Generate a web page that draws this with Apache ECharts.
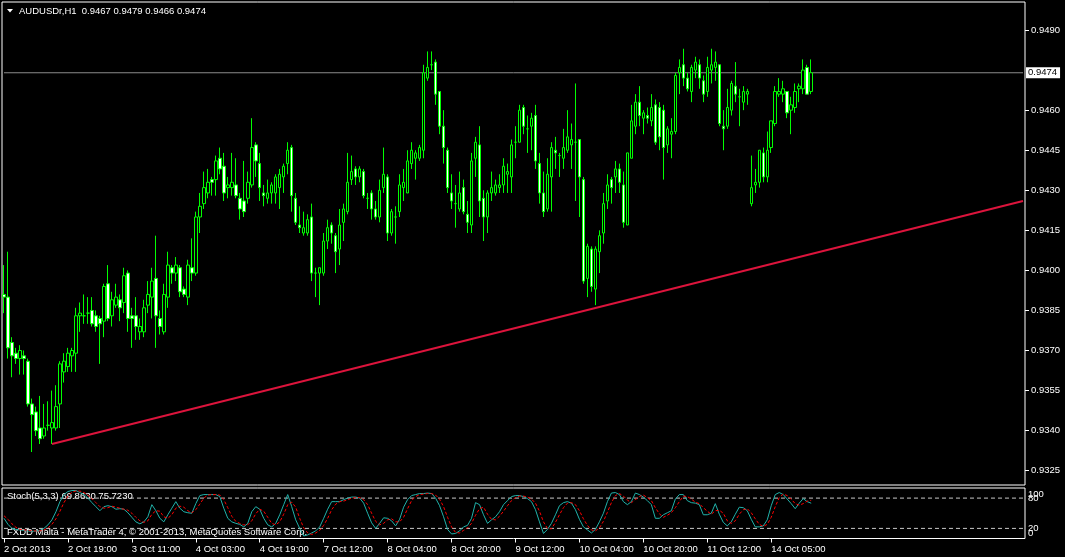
<!DOCTYPE html>
<html><head><meta charset="utf-8">
<script src="https://cdn.jsdelivr.net/npm/echarts@6/dist/echarts.min.js"></script>
<style>html,body{margin:0;padding:0;background:#000;}#c{width:1065px;height:557px;}</style>
</head><body><div id="c"></div>
<script>
const symbol = 'AUDUSDr,H1';
const tickLabels = ['2 Oct 2013','2 Oct 19:00','3 Oct 11:00','4 Oct 03:00','4 Oct 19:00','7 Oct 12:00','8 Oct 04:00','8 Oct 20:00','9 Oct 12:00','10 Oct 04:00','10 Oct 20:00','11 Oct 12:00','14 Oct 05:00'];
const priceTicks = [0.9325,0.9340,0.9355,0.9370,0.9385,0.9400,0.9415,0.9430,0.9445,0.9460,0.9490];
const stochLevelsInner = [20,80];
const stochLevelsOuter = [0,100];
const bidPrice = 0.9474;
const trendStart = [12, 0.9335];
const trendEnd = [255, 0.9426];
const totalSlots = 256;

const open = [
.9391,.9390,.9373,.9369,.9367,.9368,.9366,.9350,.9347,.9341,
.9338,.9342,.9341,.9341,.9350,.9362,.9364,.9368,.9369,.9383,
.9383,.9384,.9385,.9383,.9382,.9381,.9395,.9383,.9387,.9389,
.9388,.9399,.9383,.9383,.9377,.9377,.9387,.9390,.9397,.9382,
.9377,.9390,.9401,.9399,.9401,.9393,.9390,.9401,.9399,.9420,
.9425,.9429,.9434,.9434,.9442,.9439,.9431,.9431,.9432,.9427,
.9426,.9427,.9432,.9447,.9440,.9429,.9427,.9429,.9429,.9431,
.9435,.9440,.9446,.9427,.9417,.9414,.9414,.9420,.9399,.9399,
.9399,.9411,.9417,.9413,.9408,.9418,.9422,.9434,.9438,.9435,
.9437,.9427,.9429,.9423,.9420,.9431,.9435,.9414,.9420,.9422,
.9431,.9429,.9440,.9442,.9442,.9445,.9472,.9477,.9478,.9467,
.9454,.9445,.9429,.9425,.9423,.9431,.9421,.9417,.9442,.9447,
.9427,.9420,.9429,.9429,.9431,.9432,.9436,.9435,.9448,.9448,
.9461,.9453,.9454,.9458,.9440,.9429,.9423,.9435,.9445,.9443,
.9442,.9445,.9447,.9448,.9449,.9434,.9397,.9408,.9393,.9407,
.9414,.9426,.9434,.9435,.9438,.9432,.9417,.9442,.9454,.9463,
.9457,.9458,.9456,.9462,.9461,.9460,.9447,.9451,.9452,.9474,
.9477,.9472,.9467,.9475,.9477,.9471,.9467,.9475,.9476,.9477,
.9454,.9454,.9460,.9469,.9465,.9463,.9466,.9425,.9432,.9433,
.9444,.9435,.9446,.9455,.9466,.9466,.9467,.9460,.9461,.9468,
.9468,.9476,.9467];
const high = [
.9402,.9407,.9375,.9371,.9372,.9370,.9367,.9352,.9349,.9353,
.9350,.9351,.9355,.9357,.9366,.9369,.9371,.9371,.9386,.9388,
.9391,.9390,.9390,.9385,.9383,.9395,.9402,.9392,.9395,.9391,
.9401,.9400,.9386,.9390,.9382,.9389,.9396,.9401,.9413,.9385,
.9395,.9407,.9402,.9405,.9402,.9394,.9404,.9412,.9422,.9429,
.9437,.9438,.9435,.9443,.9446,.9444,.9435,.9444,.9442,.9429,
.9441,.9437,.9457,.9448,.9444,.9432,.9434,.9433,.9436,.9438,
.9440,.9448,.9447,.9429,.9424,.9422,.9421,.9425,.9401,.9401,
.9414,.9419,.9418,.9414,.9423,.9425,.9444,.9443,.9439,.9439,
.9438,.9429,.9430,.9426,.9434,.9446,.9436,.9423,.9424,.9436,
.9438,.9445,.9448,.9445,.9447,.9477,.9482,.9482,.9479,.9467,
.9460,.9446,.9436,.9432,.9437,.9434,.9426,.9444,.9450,.9454,
.9430,.9430,.9437,.9434,.9436,.9442,.9440,.9449,.9454,.9462,
.9462,.9458,.9459,.9462,.9444,.9437,.9442,.9448,.9450,.9444,
.9453,.9460,.9455,.9470,.9449,.9435,.9410,.9409,.9409,.9415,
.9429,.9436,.9435,.9441,.9440,.9437,.9444,.9462,.9466,.9469,
.9460,.9461,.9466,.9464,.9463,.9462,.9454,.9457,.9474,.9479,
.9483,.9474,.9477,.9480,.9479,.9473,.9480,.9483,.9482,.9477,
.9460,.9468,.9471,.9478,.9468,.9469,.9468,.9443,.9438,.9445,
.9446,.9452,.9456,.9469,.9472,.9471,.9467,.9465,.9470,.9470,
.9479,.9477,.9479];
const low = [
.9384,.9367,.9360,.9365,.9361,.9361,.9349,.9332,.9338,.9335,
.9337,.9340,.9335,.9340,.9341,.9358,.9362,.9362,.9362,.9377,
.9380,.9380,.9379,.9377,.9365,.9375,.9381,.9379,.9386,.9381,
.9384,.9377,.9371,.9374,.9374,.9375,.9384,.9382,.9371,.9376,
.9376,.9386,.9395,.9396,.9390,.9390,.9387,.9396,.9398,.9414,
.9423,.9427,.9428,.9428,.9436,.9426,.9427,.9428,.9427,.9419,
.9420,.9425,.9431,.9435,.9426,.9424,.9425,.9425,.9425,.9423,
.9429,.9436,.9422,.9417,.9414,.9413,.9413,.9396,.9390,.9387,
.9398,.9408,.9410,.9399,.9402,.9411,.9421,.9432,.9432,.9433,
.9427,.9423,.9419,.9419,.9418,.9429,.9411,.9413,.9410,.9420,
.9426,.9429,.9438,.9434,.9441,.9442,.9471,.9475,.9462,.9451,
.9440,.9429,.9423,.9416,.9422,.9421,.9414,.9414,.9435,.9420,
.9411,.9414,.9426,.9428,.9429,.9429,.9429,.9429,.9442,.9448,
.9451,.9444,.9445,.9438,.9425,.9420,.9422,.9422,.9438,.9435,
.9438,.9444,.9438,.9426,.9420,.9395,.9390,.9392,.9387,.9399,
.9410,.9423,.9425,.9429,.9429,.9416,.9417,.9442,.9451,.9454,
.9451,.9455,.9454,.9447,.9445,.9434,.9444,.9442,.9451,.9466,
.9469,.9467,.9463,.9472,.9468,.9463,.9465,.9470,.9471,.9454,
.9445,.9453,.9458,.9463,.9454,.9460,.9462,.9424,.9429,.9431,
.9433,.9433,.9444,.9454,.9465,.9463,.9457,.9451,.9459,.9463,
.9466,.9466,.9466];
const close = [
.9390,.9371,.9368,.9367,.9370,.9367,.9350,.9346,.9340,.9337,
.9341,.9342,.9343,.9349,.9365,.9366,.9369,.9370,.9383,.9384,
.9383,.9384,.9380,.9379,.9380,.9394,.9382,.9389,.9390,.9386,
.9398,.9382,.9382,.9379,.9379,.9386,.9391,.9396,.9383,.9379,
.9391,.9402,.9399,.9402,.9392,.9391,.9402,.9399,.9420,.9424,
.9431,.9433,.9433,.9441,.9438,.9429,.9432,.9433,.9428,.9423,
.9422,.9433,.9446,.9441,.9431,.9428,.9429,.9432,.9435,.9436,
.9439,.9445,.9428,.9418,.9416,.9416,.9419,.9399,.9399,.9401,
.9411,.9416,.9414,.9407,.9417,.9423,.9433,.9437,.9435,.9438,
.9428,.9427,.9423,.9420,.9430,.9436,.9414,.9422,.9420,.9432,
.9433,.9441,.9445,.9444,.9446,.9474,.9476,.9477,.9466,.9454,
.9446,.9431,.9426,.9425,.9429,.9422,.9418,.9441,.9448,.9426,
.9420,.9429,.9431,.9432,.9432,.9439,.9437,.9447,.9448,.9460,
.9454,.9453,.9457,.9441,.9429,.9422,.9436,.9446,.9444,.9443,
.9446,.9450,.9449,.9448,.9435,.9396,.9409,.9394,.9408,.9413,
.9425,.9432,.9431,.9438,.9433,.9418,.9444,.9456,.9463,.9458,
.9459,.9457,.9461,.9448,.9450,.9446,.9453,.9452,.9473,.9476,
.9472,.9468,.9476,.9478,.9472,.9466,.9476,.9477,.9478,.9455,
.9453,.9461,.9470,.9466,.9465,.9467,.9467,.9431,.9433,.9445,
.9435,.9445,.9456,.9467,.9467,.9468,.9459,.9462,.9467,.9469,
.9475,.9466,.9474];
const stochK = [
40,28,20,18,17,16,15,14,15,16,
20,27,37,53,73,87,93,95,95,91,
87,80,71,63,55,63,65,63,58,59,
58,51,42,33,29,33,43,67,55,40,
33,47,60,73,60,53,51,50,69,85,
87,87,87,87,83,60,40,33,30,28,
23,30,53,63,58,40,27,23,30,47,
67,87,63,37,20,5,7,11,15,23,
40,58,73,73,73,77,80,82,82,80,
70,50,31,20,30,41,40,35,25,38,
62,77,85,87,89,89,90,89,80,65,
43,18,9,10,15,23,26,40,71,67,
47,30,37,43,53,67,75,83,85,85,
83,79,73,57,33,10,18,30,47,65,
71,73,70,57,38,23,17,11,18,33,
50,73,90,91,87,73,67,73,90,87,
82,75,67,40,40,47,51,55,78,87,
87,75,71,70,67,47,47,50,69,48,
32,25,33,48,62,61,55,38,23,23,
25,37,65,87,91,87,78,69,59,70,
79,73,69.863];
const stochD = [
45,38,29,22,18,17,16,15,15,15,
17,21,28,39,54,71,84,92,94,94,
91,86,79,71,63,60,61,64,62,60,
58,56,50,42,35,32,35,48,55,54,
43,40,47,60,64,62,55,51,57,68,
80,86,87,87,86,77,61,44,34,30,
27,27,35,49,58,54,42,30,27,33,
48,67,72,62,40,21,11,8,11,16,
26,40,57,68,73,74,77,80,81,81,
77,67,50,34,27,30,37,39,33,33,
42,59,75,83,87,88,89,89,86,78,
63,42,23,12,11,16,21,30,46,59,
62,48,38,37,44,54,65,75,81,84,
84,82,78,70,54,33,20,19,32,47,
61,70,71,67,55,39,26,17,15,21,
34,52,71,85,89,84,76,71,77,83,
86,81,75,61,49,42,46,51,61,73,
84,83,78,72,69,61,54,48,55,56,
50,35,30,35,48,57,59,51,39,28,
24,28,42,63,81,88,85,78,69,66,
69,74,75.723];

const FONT = '"Liberation Sans", Arial, sans-serif';
const FS = 9.5;
const cats = Array.from({length: totalSlots}, (_, i) => String(i));
const candleData = open.map((o, i) => [o, close[i], low[i], high[i]]);
const last = a => a[a.length - 1];
const headerText = symbol + '  ' + [open, high, low, close].map(a => last(a).toFixed(4)).join(' ');
const stochText = 'Stoch(5,3,3) ' + last(stochK).toFixed(4) + ' ' + last(stochD).toFixed(4);
const showTick = idx => idx % 16 === 0 && idx / 16 < tickLabels.length;
const bidLine = [[0, bidPrice], [totalSlots - 1, bidPrice]];
const levelLine = v => [[0, v], [totalSlots - 1, v]];

const noAxis = {splitLine: {show: false}, axisLine: {show: false}};
const chart = echarts.init(document.getElementById('c'), null, {renderer: 'canvas'});
chart.setOption({
  backgroundColor: '#000',
  animation: false,
  textStyle: {fontFamily: FONT},
  grid: [
    {left: 2, right: 40, top: 2, height: 483, show: true, borderColor: '#fff', borderWidth: 1, backgroundColor: 'transparent'},
    {left: 2, right: 40, top: 488, height: 50.5, show: true, borderColor: '#fff', borderWidth: 1, backgroundColor: 'transparent'}
  ],
  xAxis: [
    {type: 'category', gridIndex: 0, data: cats, boundaryGap: true,
     axisLine: {show: false}, axisTick: {show: false}, axisLabel: {show: false}, splitLine: {show: false}},
    {type: 'category', gridIndex: 1, data: cats, boundaryGap: true,
     axisLine: {show: false},
     axisTick: {show: true, alignWithLabel: true, interval: showTick, length: 4, lineStyle: {color: '#fff'}},
     axisLabel: {show: true, interval: showTick, align: 'left', color: '#fff', fontSize: FS, fontFamily: FONT, margin: 6,
       formatter: (v) => { const n = Number(v); return n % 16 === 0 && tickLabels[n / 16] ? tickLabels[n / 16] : ''; }},
     splitLine: {show: false}}
  ],
  yAxis: [
    Object.assign({type: 'value', gridIndex: 0, position: 'right', min: 0.931965, max: 0.95005,
     axisTick: {show: true, length: 4, customValues: priceTicks, lineStyle: {color: '#fff'}},
     axisLabel: {customValues: priceTicks, color: '#fff', fontSize: FS, fontFamily: FONT, margin: 6, formatter: v => v.toFixed(4)}}, noAxis),
    Object.assign({type: 'value', gridIndex: 1, position: 'right', min: 0, max: 100, axisTick: {show: false},
     axisLabel: {customValues: stochLevelsInner, color: '#fff', fontSize: FS, fontFamily: FONT, margin: 3}}, noAxis),
    Object.assign({type: 'value', gridIndex: 1, position: 'right', offset: 0, min: 0, max: 100, axisTick: {show: false},
     axisLabel: {customValues: stochLevelsOuter, showMinLabel: true, showMaxLabel: true, color: '#fff', fontSize: FS, fontFamily: FONT, margin: 3,
       formatter: v => v === 100 ? '{dn|100}' : '{up|0}',
       rich: {dn: {padding: [12, 0, 0, 0], color: '#fff', fontSize: FS, fontFamily: FONT},
              up: {padding: [0, 0, 10, 0], color: '#fff', fontSize: FS, fontFamily: FONT}}}}, noAxis)
  ],
  series: [
    {type: 'candlestick', xAxisIndex: 0, yAxisIndex: 0, data: candleData, barWidth: 3,
     itemStyle: {color: '#000', color0: '#ffffff', borderColor: '#00ff00', borderColor0: '#00ff00', borderWidth: 1},
     emphasis: {disabled: true}, z: 3},
    {type: 'line', xAxisIndex: 0, yAxisIndex: 0, data: bidLine, symbol: 'none', silent: true, z: 2,
     lineStyle: {color: '#8c8c8c', width: 1},
     endLabel: {show: true, distance: 3, formatter: () => bidPrice.toFixed(4), color: '#000',
                backgroundColor: '#fff', fontSize: FS, fontFamily: FONT, padding: [1, 3, 0, 2]}},
    {type: 'line', xAxisIndex: 0, yAxisIndex: 0, data: [trendStart, trendEnd], symbol: 'none', silent: true, z: 4,
     lineStyle: {color: '#dc143c', width: 2}},
    {type: 'line', xAxisIndex: 1, yAxisIndex: 1, data: levelLine(80), symbol: 'none', silent: true, z: 1,
     lineStyle: {color: '#c8c8c8', type: [4, 3], width: 1}},
    {type: 'line', xAxisIndex: 1, yAxisIndex: 1, data: levelLine(20), symbol: 'none', silent: true, z: 1,
     lineStyle: {color: '#c8c8c8', type: [4, 3], width: 1}},
    {type: 'line', xAxisIndex: 1, yAxisIndex: 1, data: stochK, symbol: 'none', silent: true, z: 3,
     lineStyle: {color: '#20b2aa', width: 1}},
    {type: 'line', xAxisIndex: 1, yAxisIndex: 1, data: stochD, symbol: 'none', silent: true, z: 4,
     lineStyle: {color: '#ff0000', width: 1, type: [3, 2]}}
  ],
  graphic: [
    {type: 'polygon', shape: {points: [[7, 9], [13, 9], [10, 12.5]]}, style: {fill: '#fff'}, silent: true},
    {type: 'text', x: 19, y: 11, silent: true,
     style: {text: headerText, fill: '#fff', fontSize: FS, fontFamily: FONT, verticalAlign: 'middle'}},
    {type: 'text', x: 7, y: 496.5, silent: true,
     style: {text: stochText, fill: '#fff', fontSize: FS, fontFamily: FONT, verticalAlign: 'middle'}},
    {type: 'text', x: 7, y: 532, silent: true,
     style: {text: 'FXDD Malta - MetaTrader 4, \u00a9 2001-2013, MetaQuotes Software Corp.', fill: '#fff', fontSize: FS, fontFamily: FONT, verticalAlign: 'middle'}}
  ]
});
</script>
</body></html>
